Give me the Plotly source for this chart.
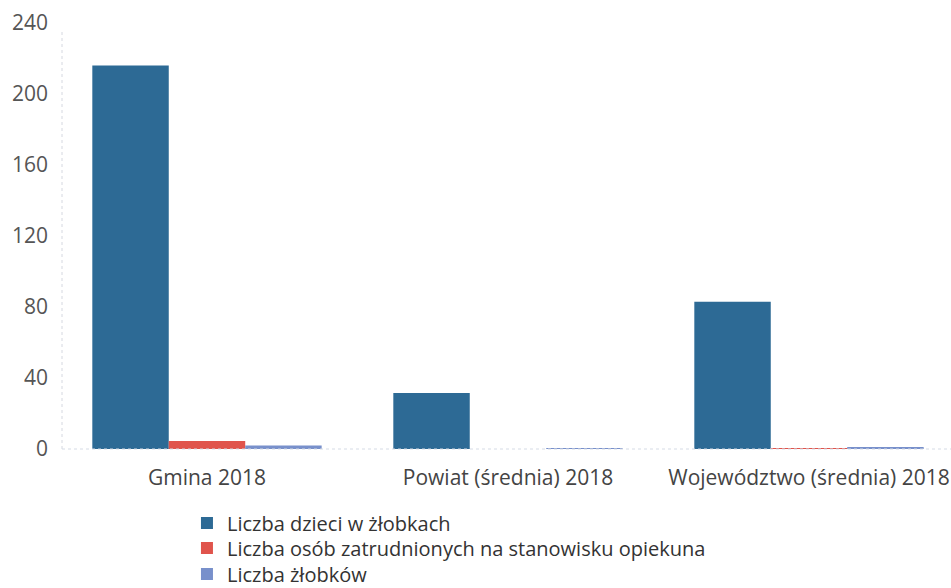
import plotly.graph_objects as go

categories = ["Gmina 2018", "Powiat (średnia) 2018", "Województwo (średnia) 2018"]
series_names = [
    "Liczba dzieci w żłobkach",
    "Liczba osób zatrudnionych na stanowisku opiekuna",
    "Liczba żłobków",
]
dzieci = [216, 31.5, 83]
opiekunowie = [4.5, 0, 0.1]
zlobki = [2, 0.3, 1]
colors = ["#2d6a95", "#e0544c", "#7890cb"]
legend_ids = ["legend", "legend2", "legend3"]
legend_y = [0.1437, 0.1012, 0.0570]

fig = go.Figure()
for name, vals, col, lg in zip(series_names, [dzieci, opiekunowie, zlobki], colors, legend_ids):
    fig.add_trace(go.Bar(x=categories, y=vals, name=name, marker_color=col,
                         marker_line_width=0, legend=lg))

legend_common = dict(orientation="v", xref="container", x=0.1966, xanchor="left",
                     yref="container", yanchor="top",
                     font=dict(size=20, color="#333"), itemwidth=30,
                     bgcolor="rgba(0,0,0,0)")

fig.update_layout(
    width=951, height=588,
    margin=dict(l=62, r=0, t=23, b=139, autoexpand=False),
    paper_bgcolor="white", plot_bgcolor="white",
    barmode="group", bargap=0.238, bargroupgap=0,
    font=dict(family="Open Sans, Noto Sans, sans-serif", size=21, color="#555"),
    showlegend=True,
    legend=dict(legend_common, y=legend_y[0]),
    legend2=dict(legend_common, y=legend_y[1]),
    legend3=dict(legend_common, y=legend_y[2]),
    xaxis=dict(showgrid=False, showline=False, ticks="", ticklabelstandoff=14,
               range=[-0.4817, 2.4718],
               tickfont=dict(size=21, color="#444")),
    yaxis=dict(range=[0, 240], tick0=0, dtick=40, showgrid=False, zeroline=False,
               showline=False, ticks="", tickfont=dict(size=21, color="#555"),
               ticklabelstandoff=13),
    shapes=[
        dict(type="line", xref="paper", yref="paper", x0=0, x1=0, y0=0, y1=0.98,
             line=dict(color="#d5d8e0", width=1, dash="dot")),
        dict(type="line", xref="paper", yref="paper", x0=0, x1=1, y0=0, y1=0,
             line=dict(color="#d5dbe5", width=1, dash="dot")),
    ],
)

fig.write_html("out.html", config={"displayModeBar": False},
               post_script="document.body.style.margin='0';")
